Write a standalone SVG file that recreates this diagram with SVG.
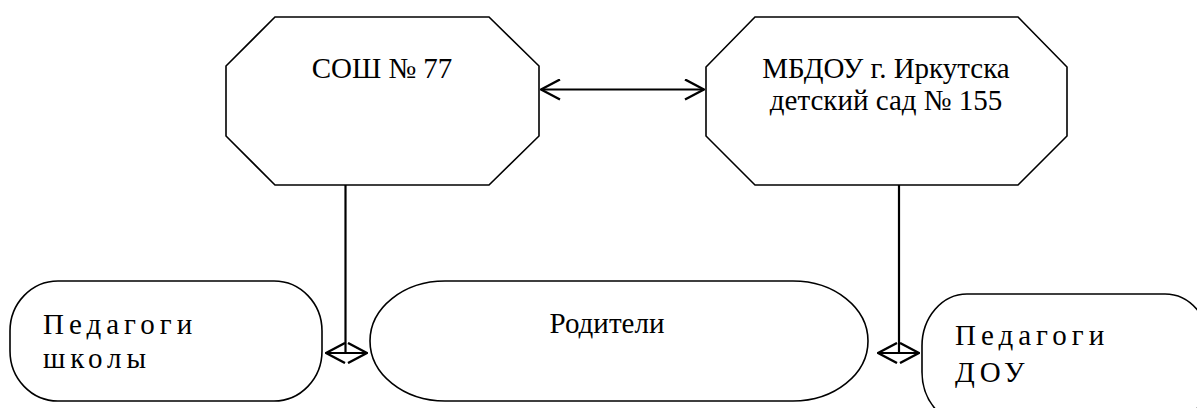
<svg xmlns="http://www.w3.org/2000/svg" width="1197" height="408" viewBox="0 0 1197 408">
<style>
.shape{fill:#fff;stroke:#000;stroke-width:1.6}
.conn{fill:none;stroke:#000;stroke-width:2.2}
.t{font-family:'Liberation Serif','Times New Roman',serif;font-size:29px;fill:#000}
.sp{letter-spacing:5px}
</style>
<defs>
<marker id="ah" viewBox="0 0 22 22" refX="21" refY="11" markerWidth="22" markerHeight="22" markerUnits="userSpaceOnUse" orient="auto-start-reverse">
<path d="M2,1 L21,11 L2,21" fill="none" stroke="#000" stroke-width="2.4"/>
</marker>
</defs>
<rect width="1197" height="408" fill="#fff"/>
<g id="node-sosh">
<polygon class="shape" points="275,17 489,17 539,66 539,136 489,185 275,185 226,136 226,66"/>
<text class="t" x="382" y="78" text-anchor="middle">СОШ № 77</text>
</g>
<g id="node-mbdou">
<polygon class="shape" points="755,17 1018,17 1067,67 1067,136 1018,185 755,185 706,136 706,67"/>
<text class="t" x="886" y="78" text-anchor="middle">МБДОУ г. Иркутска</text>
<text class="t" x="886" y="110" text-anchor="middle">детский сад № 155</text>
</g>
<g id="node-ped-school">
<rect class="shape" x="10" y="281" width="312" height="120" rx="48" ry="50"/>
<text class="t sp" x="43" y="334">Педагоги</text>
<text class="t sp" x="43" y="368">школы</text>
</g>
<g id="node-parents">
<rect class="shape" x="370" y="281" width="498" height="120" rx="75" ry="60"/>
<text class="t" x="607" y="333" text-anchor="middle">Родители</text>
</g>
<g id="node-ped-dou">
<rect class="shape" x="922" y="294" width="288" height="130" rx="45" ry="52"/>
<text class="t sp" x="955" y="345">Педагоги</text>
<text class="t sp" x="955" y="382">ДОУ</text>
</g>
<g id="connectors">
<line class="conn" x1="541" y1="89.5" x2="704" y2="89.5" marker-start="url(#ah)" marker-end="url(#ah)"/>
<line class="conn" x1="345.5" y1="185" x2="345.5" y2="353"/>
<line class="conn" x1="326" y1="353" x2="367" y2="353" marker-start="url(#ah)" marker-end="url(#ah)"/>
<line class="conn" x1="899" y1="185" x2="899" y2="353"/>
<line class="conn" x1="878" y1="353" x2="919" y2="353" marker-start="url(#ah)" marker-end="url(#ah)"/>
</g>
</svg>
